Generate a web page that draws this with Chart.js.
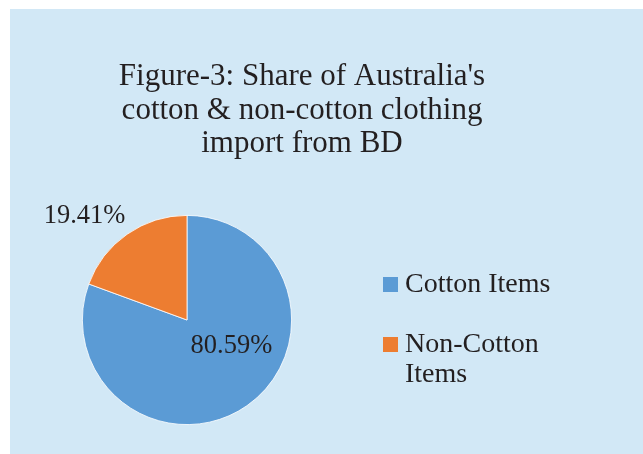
<!DOCTYPE html>
<html>
<head>
<meta charset="utf-8">
<script src="https://cdn.jsdelivr.net/npm/chart.js@4.4.0/dist/chart.umd.min.js"></script>
<style>
  html, body { margin: 0; padding: 0; background: #ffffff; }
  #wrap { position: relative; width: 643px; height: 454px; }
</style>
</head>
<body>
<div id="wrap"><canvas id="myChart" width="643" height="454"></canvas></div>
<script>
const categories = ["Cotton Items", "Non-Cotton Items"];
const shares = [80.59, 19.41];
const sliceColors = ["#5b9bd5", "#ed7d31"];
const titleLines = ["Figure-3: Share of Australia's", "cotton & non-cotton clothing", "import from BD"];
const legendLines = [["Cotton Items"], ["Non-Cotton", "Items"]];

const textColor = "#231f20";
const serif = "'Liberation Serif', 'Times New Roman', serif";

// panel background + title, drawn before the pie
const panelPlugin = {
  id: "panel",
  beforeDraw(chart) {
    const ctx = chart.ctx;
    ctx.save();
    ctx.fillStyle = "#d2e8f6";
    ctx.fillRect(10, 9, chart.width - 10, chart.height - 9);

    ctx.fillStyle = textColor;
    ctx.font = `31px ${serif}`;
    ctx.textAlign = "center";
    ctx.textBaseline = "alphabetic";
    titleLines.forEach((line, i) => {
      ctx.fillText(line, 302, 85 + i * 33.5);
    });
    ctx.restore();
  }
};

// percentage labels and the legend on the right
const labelPlugin = {
  id: "labels",
  afterDraw(chart) {
    const ctx = chart.ctx;
    const arcs = chart.getDatasetMeta(0).data;
    const cx = arcs[0].x;
    const cy = arcs[0].y;
    const r = arcs[0].outerRadius;

    ctx.save();
    ctx.fillStyle = textColor;
    ctx.font = `26.5px ${serif}`;
    ctx.textAlign = "center";
    ctx.textBaseline = "alphabetic";
    ctx.fillText(shares[0].toFixed(2) + "%", cx + r * 0.425, cy + r * 0.315);
    ctx.fillText(shares[1].toFixed(2) + "%", cx - r * 0.98, cy - r * 0.925);

    // legend
    const area = chart.chartArea;
    const boxX = area.right + 91;
    const rowBase = [cy - 28, cy + 32];
    ctx.font = `28px ${serif}`;
    ctx.textAlign = "left";
    categories.forEach((cat, i) => {
      ctx.fillStyle = sliceColors[i];
      ctx.fillRect(boxX, rowBase[i] - 15, 15, 15);
      ctx.fillStyle = textColor;
      legendLines[i].forEach((line, j) => {
        ctx.fillText(line, boxX + 22, rowBase[i] + j * 30);
      });
    });
    ctx.restore();
  }
};

new Chart(document.getElementById("myChart"), {
  type: "pie",
  data: {
    labels: categories,
    datasets: [{
      data: shares,
      backgroundColor: sliceColors,
      borderColor: "#ffffff",
      borderWidth: 0.8
    }]
  },
  options: {
    responsive: false,
    animation: false,
    layout: {
      padding: { left: 82, right: 351, top: 215, bottom: 29 }
    },
    plugins: {
      legend: { display: false },
      title: { display: false },
      tooltip: { enabled: false }
    }
  },
  plugins: [panelPlugin, labelPlugin]
});
</script>
</body>
</html>
